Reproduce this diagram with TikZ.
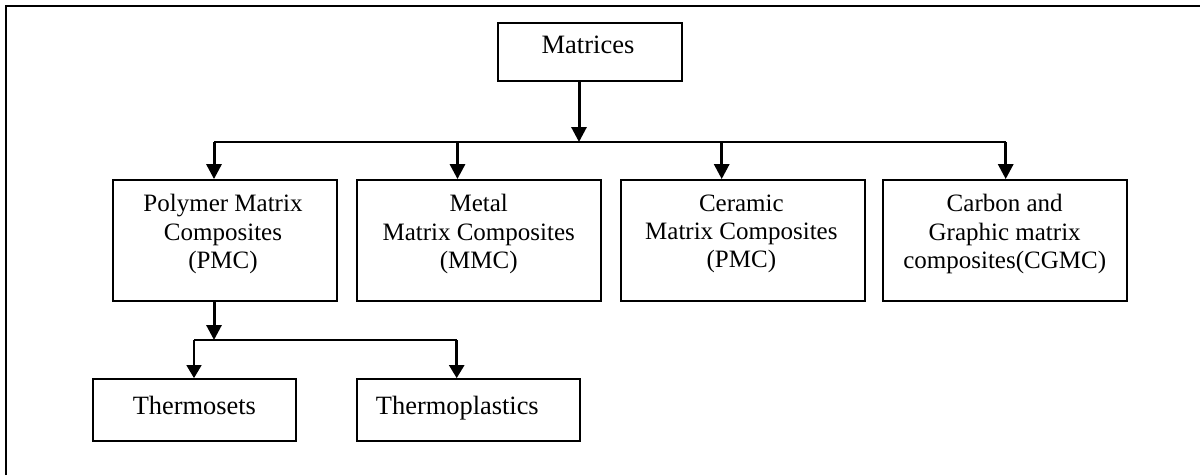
\documentclass[tikz,border=0pt]{standalone}
\usepackage{fontspec}
\setmainfont{Liberation Serif}
\usetikzlibrary{arrows.meta}
\begin{document}
\begin{tikzpicture}[x=1pt,y=-1pt,
  box/.style={draw=black, line width=1.8pt, rectangle, inner sep=0pt, fill=white},
  txt/.style={inner sep=0pt, align=center},
  toprow/.style={font=\fontsize{25pt}{28.3pt}\selectfont},
  lowrow/.style={font=\fontsize{26.4pt}{30pt}\selectfont, text height=18pt, text depth=0pt},
  bigarrow/.style={line width=3pt, -{Triangle[length=15pt,width=15pt]}},
  thinarrow/.style={line width=1.6pt, -{Triangle[length=13pt,width=15pt]}},
  midarrow/.style={line width=2.6pt, -{Triangle[length=13pt,width=15pt]}},
  busline/.style={line width=2pt},
  thinbus/.style={line width=1.6pt}
]
\useasboundingbox (0,0) rectangle (1200,475);
\fill[white] (0,0) rectangle (1200,475);
% outer frame (only top and left edges visible)
\draw[line width=2pt] (5.5,475) -- (5.5,6) -- (1200,6);

% boxes
\node[box, minimum width=184pt, minimum height=58pt] (mat) at (590,51.7) {};
\node[box, minimum width=224pt, minimum height=120.7pt] (pmc) at (225,240.35) {};
\node[box, minimum width=244pt, minimum height=120.7pt] (mmc) at (478.7,240.35) {};
\node[box, minimum width=244.3pt, minimum height=120.7pt] (cmc) at (742.85,240.35) {};
\node[box, minimum width=244pt, minimum height=120.7pt] (cgmc) at (1004.7,240.35) {};
\node[box, minimum width=203.3pt, minimum height=61.7pt] (tset) at (194.35,409.85) {};
\node[box, minimum width=223.3pt, minimum height=61.7pt] (tplast) at (468.35,409.85) {};

% texts
\node[txt, font=\fontsize{26.5pt}{30pt}\selectfont] (matT) at ([xshift=-2pt,yshift=6.7pt]mat.center) {Matrices};
\node[txt, toprow] (pmcT) at ([xshift=-2pt,yshift=6.3pt]pmc.center) {Polymer Matrix\\Composites\\(PMC)};
\node[txt, toprow] (mmcT) at ([yshift=6.3pt]mmc.center) {Metal\\Matrix Composites\\(MMC)};
\node[txt, toprow] (cmcT) at ([xshift=-1.5pt,yshift=6.3pt]cmc.center) {Ceramic\\Matrix Composites\\(PMC)};
\node[txt, toprow] (cgmcT) at ([yshift=6.3pt]cgmc.center) {Carbon and\\Graphic matrix\\composites(CGMC)};
\node[txt, lowrow] (tsetT) at ([yshift=4.85pt]tset.center) {Thermosets};
\node[txt, lowrow] (tplastT) at ([xshift=-11pt,yshift=4.85pt]tplast.center) {Thermoplastics};

% bus coordinates
\coordinate (busm) at (579,142);
\coordinate (bus1) at (214,142);
\coordinate (bus2) at (457.5,142);
\coordinate (bus3) at (721.7,142);
\coordinate (bus4) at (1005.7,142);
\coordinate (sub) at (214,340);
\coordinate (subL) at (194,340);
\coordinate (subR) at (456.7,340);

% connectors
\draw[busline] (bus1) -- (bus4);
\draw[bigarrow] (busm |- mat.south) -- (busm);
\draw[bigarrow] (bus1) -- (bus1 |- pmc.north);
\draw[bigarrow] (bus2) -- (bus2 |- mmc.north);
\draw[bigarrow] (bus3) -- (bus3 |- cmc.north);
\draw[bigarrow] (bus4) -- (bus4 |- cgmc.north);

\draw[thinbus] (subL) -- (subR);
\draw[bigarrow] (sub |- pmc.south) -- (sub);
\draw[thinarrow] (subL) -- (subL |- tset.north);
\draw[midarrow] (subR) -- (subR |- tplast.north);
\end{tikzpicture}
\end{document}
